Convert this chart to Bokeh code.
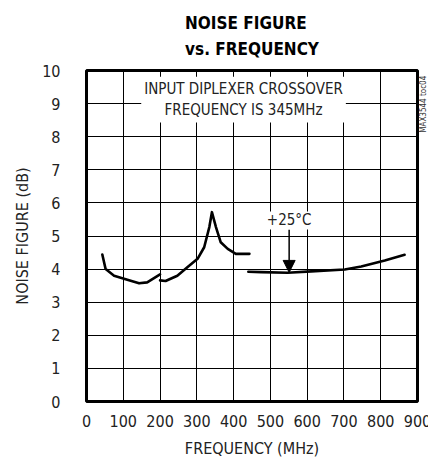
import math
from bokeh.plotting import figure
from bokeh.models import Range1d, Label, Arrow, NormalHead, FixedTicker, Title, LinearAxis
from bokeh.embed import file_html
from bokeh.resources import INLINE

FONT = "DejaVu Sans Condensed, Roboto, sans-serif"

# data
x_ticks = [0, 100, 200, 300, 400, 500, 600, 700, 800, 900]
y_ticks = [0, 1, 2, 3, 4, 5, 6, 7, 8, 9, 10]

seg1_freq = [43, 52, 75, 111, 143, 165, 200]
seg1_nf = [4.44, 4.0, 3.8, 3.68, 3.57, 3.6, 3.84]

seg2_freq = [200, 215, 247, 275, 302, 320, 334, 341, 352, 365, 384, 406, 443]
seg2_nf = [3.66, 3.64, 3.8, 4.06, 4.31, 4.66, 5.27, 5.72, 5.27, 4.81, 4.61, 4.46, 4.46]

seg3_freq = [440, 475, 547, 611, 702, 747, 811, 865]
seg3_nf = [3.92, 3.91, 3.89, 3.93, 3.99, 4.08, 4.26, 4.43]

arrow_freq = 551
arrow_from = 5.2
arrow_to = 3.9

p = figure(frame_width=331, frame_height=331, output_backend="svg", toolbar_location=None,
           x_range=Range1d(0, 900), y_range=Range1d(0, 10),
           min_border_left=86, min_border_right=0, min_border_top=70, min_border_bottom=57)
p.background_fill_color = "white"
p.border_fill_color = "white"
p.outline_line_color = "black"
p.outline_line_width = 3

for ax in (p.xaxis, p.yaxis):
    ax.axis_line_color = None
    ax.major_tick_line_color = None
    ax.minor_tick_line_color = None
    ax.major_label_text_font = FONT
    ax.major_label_text_font_size = "16px"
    ax.major_label_text_color = "#222222"
    ax.axis_label_text_font = FONT
    ax.axis_label_text_font_size = "16px"
    ax.axis_label_text_font_style = "normal"
    ax.axis_label_text_color = "#222222"

p.xaxis.ticker = FixedTicker(ticks=x_ticks)
p.yaxis.ticker = FixedTicker(ticks=y_ticks)
p.xaxis.axis_label = "FREQUENCY (MHz)"
p.yaxis.axis_label = "NOISE FIGURE (dB)"
p.xaxis.major_label_standoff = 7
p.yaxis.major_label_standoff = 20
p.xaxis.axis_label_standoff = 9
p.yaxis.axis_label_standoff = 7

p.xgrid.ticker = FixedTicker(ticks=x_ticks)
p.ygrid.ticker = FixedTicker(ticks=y_ticks)
for g in (p.xgrid, p.ygrid):
    g.grid_line_color = "black"
    g.grid_line_width = 1
    g.grid_line_alpha = 1.0

# right-hand document code, as a single-tick axis label
code_axis = LinearAxis(ticker=FixedTicker(ticks=[8.12]), major_label_overrides={8.12: "MAX3544 toc04"},
                       major_label_orientation=math.pi / 2, axis_line_color=None,
                       major_tick_line_color=None, minor_tick_line_color=None,
                       major_label_standoff=0, major_label_text_font=FONT,
                       major_label_text_font_size="8px", major_label_text_color="#333333")
p.add_layout(code_axis, "right")

for fx, fy in ((seg1_freq, seg1_nf), (seg2_freq, seg2_nf), (seg3_freq, seg3_nf)):
    p.line(fx, fy, line_color="black", line_width=2.6, line_cap="round", line_join="round")

p.add_layout(Arrow(end=NormalHead(size=12, fill_color="black", line_color="black"),
                   x_start=arrow_freq, y_start=arrow_from, x_end=arrow_freq, y_end=arrow_to,
                   line_color="black", line_width=1.5))

p.add_layout(Label(x=551, y=5.47, text="+25°C", text_align="center", text_baseline="middle",
                   text_font=FONT, text_font_size="15px", text_color="#222222",
                   background_fill_color="white"))

p.add_layout(Label(x=427, y=9.12, text="INPUT DIPLEXER CROSSOVER\nFREQUENCY IS 345MHz",
                   text_align="center", text_baseline="middle", text_line_height=1.2,
                   text_font=FONT, text_font_size="15px", text_color="#222222",
                   background_fill_color="white", padding=3))

p.add_layout(Title(text="NOISE FIGURE\nvs. FREQUENCY", align="center", vertical_align="top",
                   text_font=FONT, text_font_size="17px", text_line_height=1.3,
                   text_font_style="bold", text_color="black", standoff=19), "above")

open("out.html", "w").write(file_html(p, INLINE))
